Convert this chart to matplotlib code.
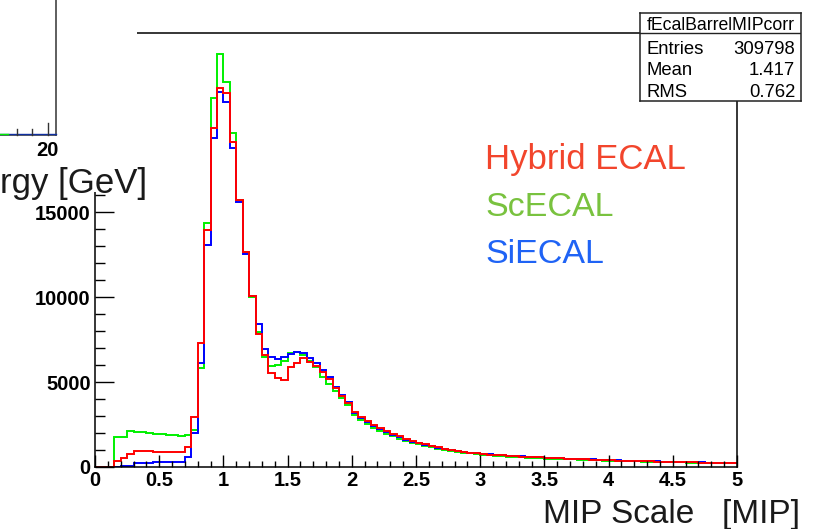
import numpy as np
import matplotlib
matplotlib.use("Agg")
import matplotlib.pyplot as plt
from matplotlib.ticker import MultipleLocator, FixedLocator

plt.rcParams['font.family'] = ['Liberation Sans', 'DejaVu Sans']

# ---------------- data ----------------
bin_width = 0.05
x_min, x_max = 0.0, 5.0

hybrid = [0, 0, 0, 350, 550, 780, 940, 920, 920, 900,
          900, 880, 870, 860, 1200, 2960, 7280, 13940, 19960, 22270,
          21980, 19140, 15700, 12630, 10080, 7800, 6590, 5510, 5220, 5120,
          5860, 6140, 6390, 6200, 5940, 5610, 5180, 4630, 4200, 3750,
          3250, 2950, 2700, 2480, 2290, 2120, 1960, 1800, 1660, 1530,
          1420, 1330, 1230, 1150, 1080, 1010, 960, 900, 850, 800,
          760, 730, 700, 680, 650, 630, 610, 590, 580, 560,
          540, 530, 510, 490, 480, 460, 450, 440, 420, 400,
          390, 380, 370, 360, 350, 340, 330, 320, 310, 300,
          290, 285, 275, 270, 260, 255, 250, 245, 240, 235]

scecal = [0, 0, 0, 1740, 1750, 2110, 2080, 2030, 1990, 1960,
          1920, 1880, 1870, 1850, 1860, 2170, 5800, 14330, 21720, 24290,
          22670, 19630, 15700, 12630, 9980, 7960, 6450, 5940, 6000, 6240,
          6730, 6790, 6590, 6250, 5860, 5310, 4880, 4450, 4050, 3620,
          3050, 2760, 2510, 2300, 2120, 1950, 1800, 1660, 1540, 1430,
          1330, 1240, 1160, 1080, 1010, 950, 900, 850, 800, 760,
          720, 690, 660, 640, 610, 590, 570, 550, 540, 520,
          500, 490, 470, 460, 445, 430, 420, 410, 395, 380,
          370, 360, 350, 340, 330, 320, 310, 300, 290, 285,
          275, 268, 260, 254, 247, 240, 235, 230, 225, 220]

siecal = [0, 0, 0, 0, 40, 70, 210, 250, 260, 270,
          280, 290, 300, 320, 570, 1980, 6100, 13080, 19330, 22080,
          21450, 18750, 15600, 12510, 10080, 8390, 6940, 6450, 6350, 6450,
          6650, 6790, 6730, 6390, 6100, 5710, 5310, 4730, 4240, 3800,
          3180, 2880, 2620, 2400, 2210, 2040, 1880, 1740, 1610, 1500,
          1400, 1300, 1220, 1140, 1070, 1000, 950, 900, 850, 810,
          770, 740, 710, 690, 660, 640, 620, 600, 580, 570,
          550, 540, 520, 500, 490, 470, 460, 450, 430, 410,
          400, 385, 375, 365, 355, 345, 335, 325, 315, 305,
          295, 290, 280, 272, 265, 258, 252, 246, 240, 236]

x_ticks = [0, 0.5, 1, 1.5, 2, 2.5, 3, 3.5, 4, 4.5, 5]
x_tick_labels = ["0", "0.5", "1", "1.5", "2", "2.5", "3", "3.5", "4", "4.5", "5"]
y_ticks = [0, 5000, 10000, 15000, 20000, 25000]
y_tick_labels = ["0", "5000", "10000", "15000", "20000", "25000"]

legend_labels = ["Hybrid ECAL", "ScECAL", "SiECAL"]
stat_title = "fEcalBarrelMIPcorr"
stat_names = ["Entries", "Mean", "RMS"]
stat_values = ["309798", "1.417", "0.762"]

# ---------------- figure ----------------
W, H = 821, 529
fig = plt.figure(figsize=(W / 100, H / 100), dpi=100)
fig.patch.set_facecolor("white")

def fxy(px, py):
    return px / W, 1 - py / H

ax = fig.add_axes([95 / W, 1 - 467 / H, 642 / W, 434 / H])
edges = np.arange(len(hybrid) + 1) * bin_width + x_min

ax.stairs(scecal, edges, color="#00f000", linewidth=1.4, baseline=None)
ax.stairs(siecal, edges, color="#0000ff", linewidth=1.4, baseline=None)
ax.stairs(hybrid, edges, color="#ff0000", linewidth=1.4, baseline=None)

ax.set_xlim(x_min, x_max)
ax.set_ylim(0, 25530)
ax.xaxis.set_major_locator(FixedLocator(x_ticks))
ax.set_xticklabels(x_tick_labels)
ax.xaxis.set_minor_locator(MultipleLocator(0.1))
ax.yaxis.set_major_locator(FixedLocator(y_ticks))
ax.set_yticklabels(y_tick_labels)
ax.yaxis.set_minor_locator(MultipleLocator(1000))

ax.tick_params(axis='x', which='major', direction='in', length=9.0, width=1.0,
               labelsize=14.5, pad=3.2, top=False)
ax.tick_params(axis='x', which='minor', direction='in', length=4.3, width=1.0, top=False)
ax.tick_params(axis='y', which='major', direction='in', length=13.5, width=1.0,
               labelsize=14.5, pad=3.2, right=False)
ax.tick_params(axis='y', which='minor', direction='in', length=7.0, width=1.0, right=False)
for lab in ax.get_xticklabels() + ax.get_yticklabels():
    lab.set_fontweight('bold')
for sp in ax.spines.values():
    sp.set_linewidth(1.1)
    sp.set_color("black")

# legend texts
leg_colors = ["#f2452c", "#79c23f", "#1f63f5"]
leg_base = [169, 216, 263]
leg_sizes = [25, 24.5, 24.5]
for lab, col, yb, fs in zip(legend_labels, leg_colors, leg_base, leg_sizes):
    fig.text(*fxy(485, yb), lab, color=col, fontsize=fs, ha='left', va='baseline')

# x axis title
fig.text(*fxy(800, 523), "MIP Scale   [MIP]", fontsize=24, ha='right', va='baseline',
         color="#1a1a1a")

# ---------------- overlapping pad remnant (upper-left) ----------------
cover = fig.add_axes([0, 1 - 192 / H, 137 / W, 192 / H])
cover.set_facecolor("white")
cover.set_xlim(0, 137)
cover.set_ylim(192, 0)
cover.set_xticks([])
cover.set_yticks([])
for sp in cover.spines.values():
    sp.set_visible(False)
cover.plot([56, 56], [0, 135], color="#333333", lw=1.1, clip_on=False)
cover.plot([0, 56], [135, 135], color="#333333", lw=1.1, clip_on=False)
cover.plot([0, 56], [134.2, 134.2], color="#1030a0", lw=1.0, clip_on=False)
cover.plot([0, 8], [133.8, 133.8], color="#00ee00", lw=1.0, clip_on=False)
for tx, tl in [(16.7, 6.5), (32.3, 6.5), (47.7, 12)]:
    cover.plot([tx, tx], [135, 135 - tl], color="#333333", lw=1.0, clip_on=False)
fig.text(*fxy(47, 156), "20", fontsize=14.5, fontweight='bold', ha='center', va='baseline')
fig.text(*fxy(147, 193), "rgy [GeV]", fontsize=25, ha='right', va='baseline',
         color="#1a1a1a", zorder=10)

# ---------------- stat box ----------------
bx0, by0, bx1, by1 = 640, 13.3, 801, 100.7
sbox = fig.add_axes([bx0 / W, 1 - by1 / H, (bx1 - bx0) / W, (by1 - by0) / H])
sbox.set_facecolor("white")
sbox.set_xlim(bx0, bx1)
sbox.set_ylim(by1, by0)
sbox.set_xticks([])
sbox.set_yticks([])
for sp in sbox.spines.values():
    sp.set_linewidth(1.1)
    sp.set_color("#222222")
sbox.plot([bx0, bx1], [33.3, 33.3], color="#222222", lw=1.0)
sbox.text(720.5, 30.5, stat_title, fontsize=12.7, ha='center', va='baseline')
row_base = [54, 75, 96.5]
for name, val, yb in zip(stat_names, stat_values, row_base):
    sbox.text(646.5, yb, name, fontsize=13.3, ha='left', va='baseline')
    sbox.text(795, yb, val, fontsize=13.3, ha='right', va='baseline')

fig.savefig("out.png", dpi=100)
